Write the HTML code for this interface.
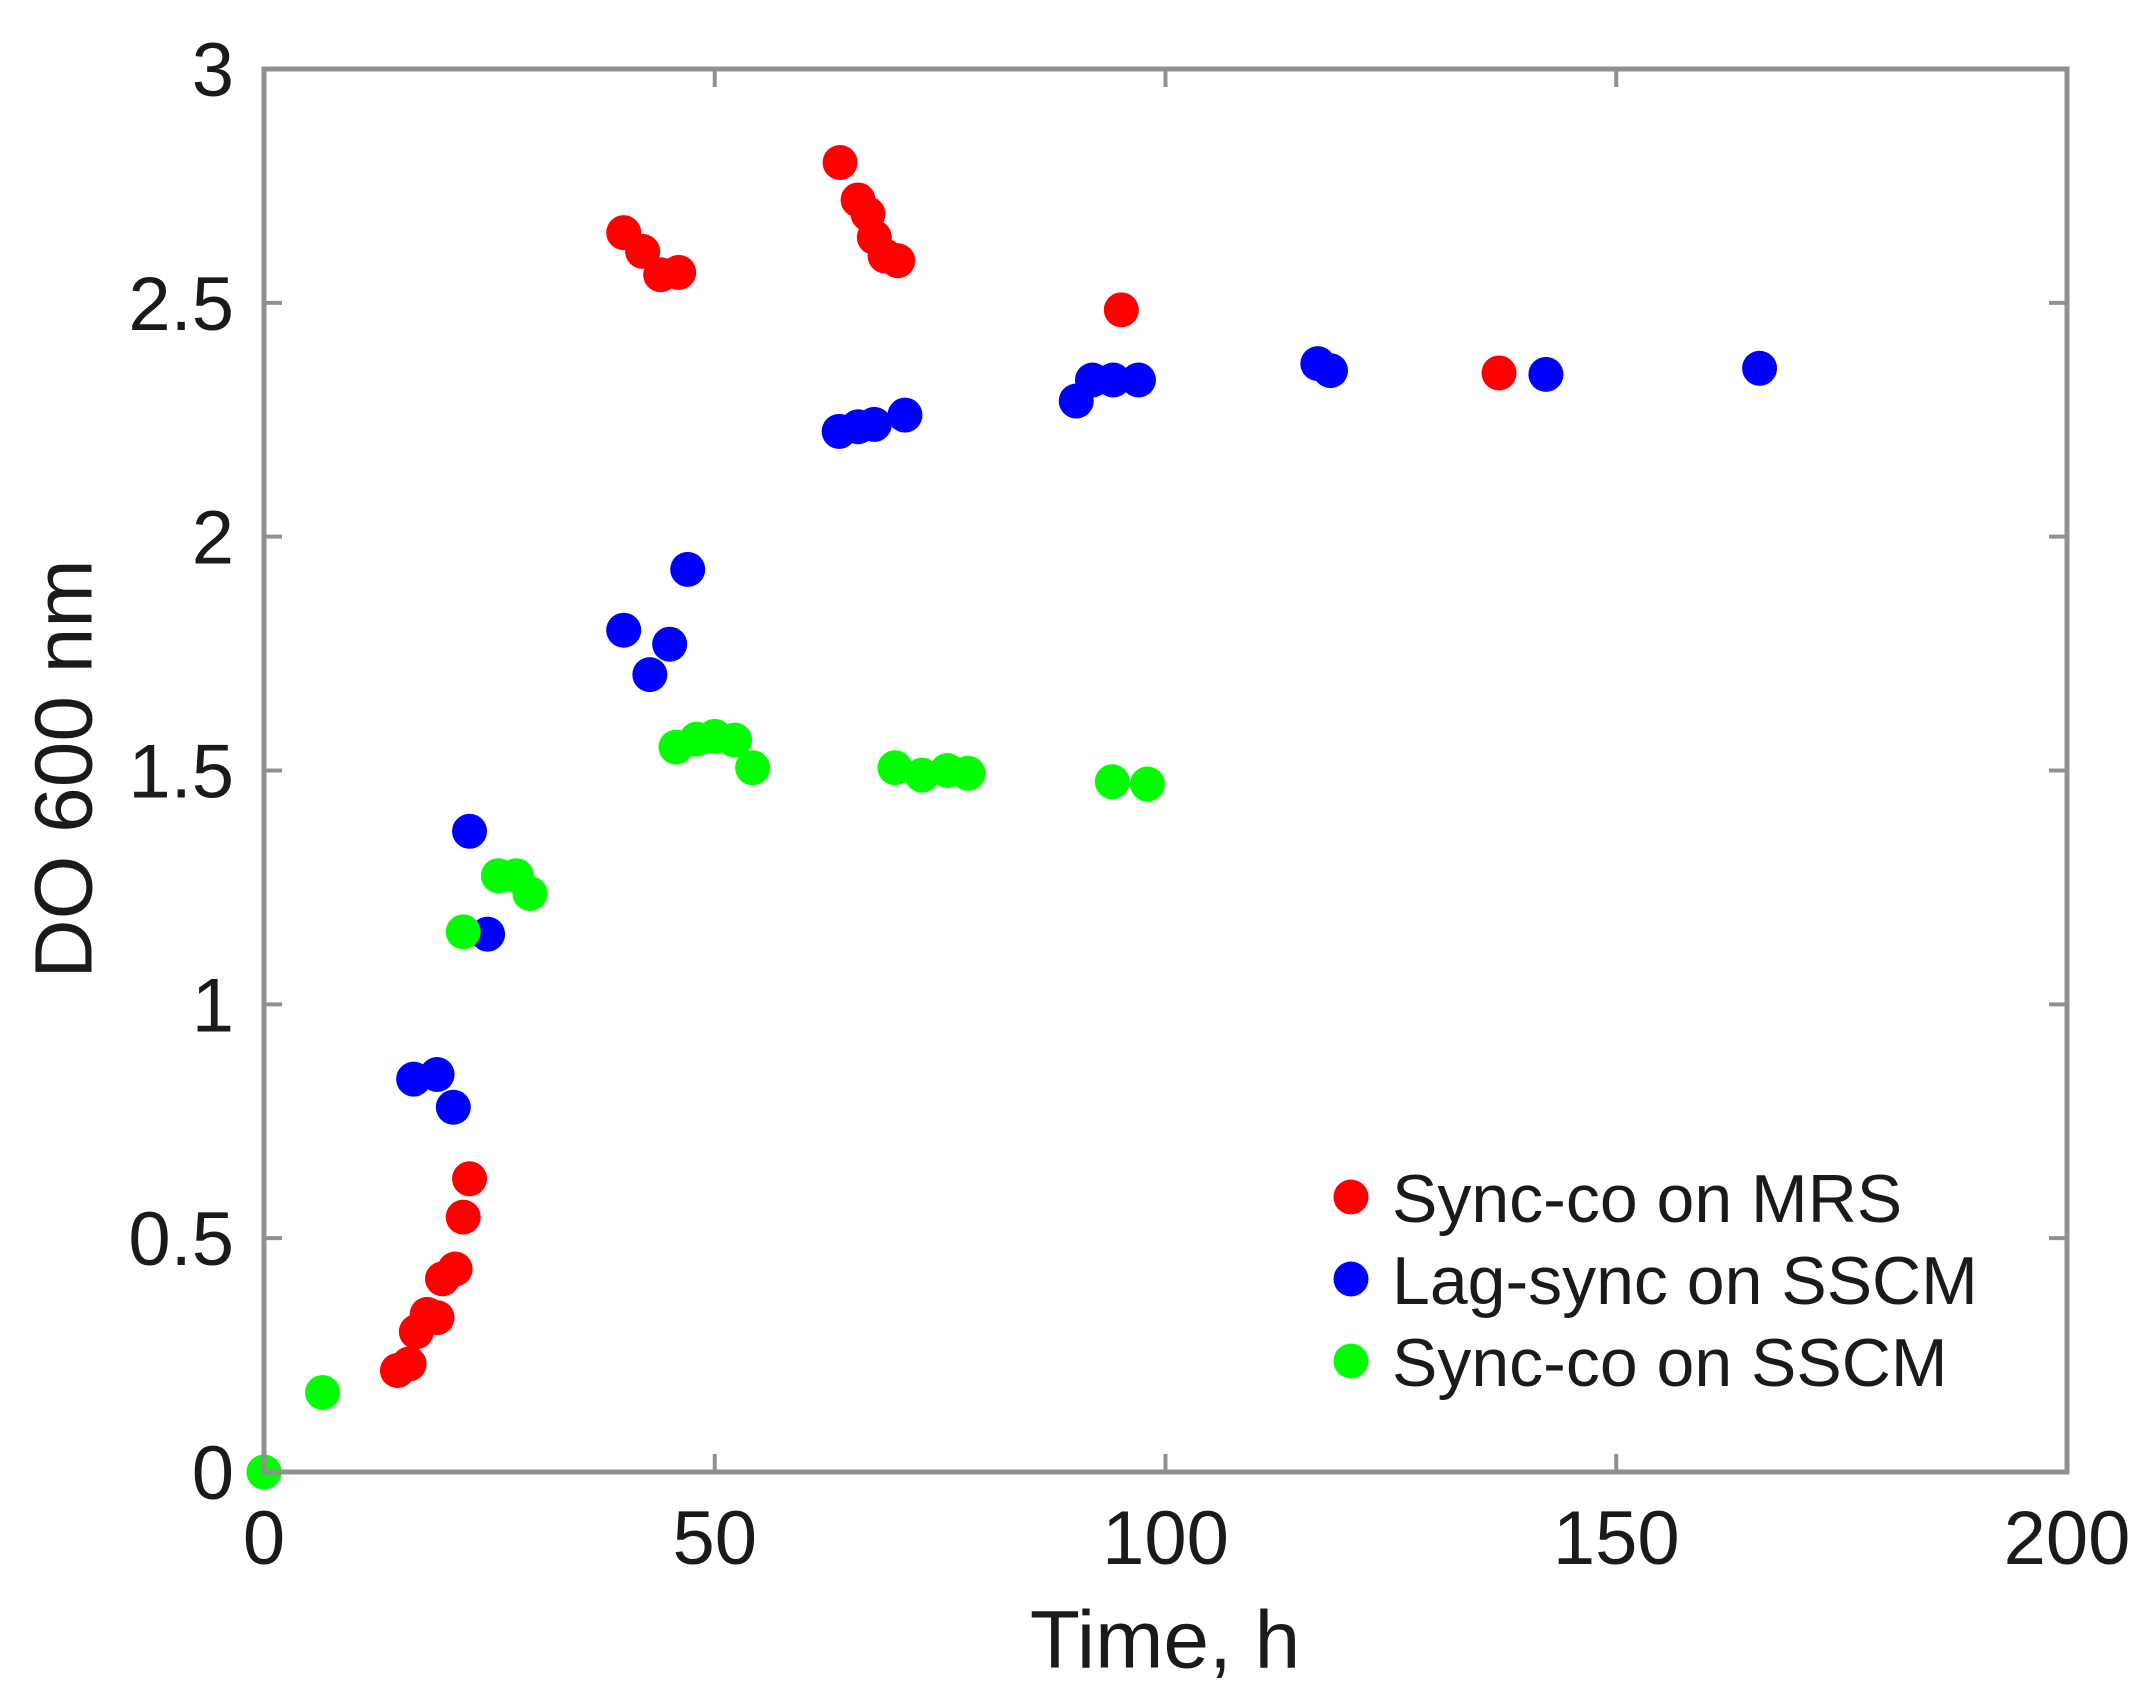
<!DOCTYPE html>
<html><head><meta charset="utf-8"><style>html,body{margin:0;padding:0;background:#fff}svg{display:block}</style></head>
<body>
<svg id="s" width="2152" height="1693" xmlns="http://www.w3.org/2000/svg" font-family="Liberation Sans, Arial, sans-serif">
<rect width="2152" height="1693" fill="#fff"/>
<g id="ticks" stroke="#909090" stroke-width="4"></g>
<g id="pts"></g>
<rect x="264" y="69" width="1803" height="1403" fill="none" stroke="#909090" stroke-width="5"/>
<g id="labels" font-size="76" fill="#1a1a1a"></g>
<text x="64" y="769" font-size="82" fill="#1a1a1a" text-anchor="middle" dominant-baseline="central" transform="rotate(-90 64 769)">DO 600 nm</text>
<text x="1165" y="1640" font-size="82" fill="#1a1a1a" text-anchor="middle" dominant-baseline="central">Time, h</text>
<g font-size="68" fill="#1a1a1a">
<circle cx="1351" cy="1197" r="17.5" fill="#ff0000"/><text x="1392" y="1222">Sync-co on MRS</text>
<circle cx="1351" cy="1279" r="17.5" fill="#0000ff"/><text x="1392" y="1304">Lag-sync on SSCM</text>
<circle cx="1351" cy="1361" r="17.5" fill="#00ff00"/><text x="1392" y="1386">Sync-co on SSCM</text>
</g>
</svg>
<script>
var NS="http://www.w3.org/2000/svg";
function X(t){return 264+t*9.015}function Y(v){return 1472-v*467.67}
function el(p,n,a,txt){var e=document.createElementNS(NS,n);for(var k in a)e.setAttribute(k,a[k]);if(txt!=null)e.textContent=txt;document.getElementById(p).appendChild(e);}
for(var i=0;i<=4;i++){var x=X(i*50);
 el('ticks','line',{x1:x,y1:1472,x2:x,y2:1454});el('ticks','line',{x1:x,y1:69,x2:x,y2:87});
 el('labels','text',{x:x,y:1564,'text-anchor':'middle'},String(i*50));}
for(var j=0;j<=6;j++){var v=j*0.5,y=Y(v);
 el('ticks','line',{x1:264,y1:y,x2:282,y2:y});el('ticks','line',{x1:2067,y1:y,x2:2049,y2:y});
 el('labels','text',{x:234,y:y+27,'text-anchor':'end'},String(v));}
var red=[[14.8,.217],[16.1,.231],[16.9,.30],[18.1,.337],[19.2,.33],[19.8,.413],[21.2,.434],[22.1,.545],[22.8,.627],[39.9,2.65],[42,2.61],[44,2.56],[46,2.565],[63.9,2.80],[65.9,2.72],[67,2.69],[67.7,2.64],[68.9,2.60],[70.3,2.59],[95.1,2.485],[137,2.35]];
var blue=[[16.6,.84],[19.2,.85],[21,.78],[22.8,1.37],[24.8,1.15],[39.9,1.80],[42.8,1.705],[45,1.77],[47,1.93],[63.8,2.225],[65.9,2.235],[67.7,2.24],[71.1,2.26],[90.1,2.29],[91.9,2.335],[94.2,2.335],[97,2.335],[116.9,2.37],[118.3,2.355],[142.2,2.347],[165.9,2.36]];
var green=[[0,0],[6.5,.17],[22.1,1.155],[26,1.275],[28,1.275],[29.5,1.237],[45.7,1.55],[48,1.567],[50,1.573],[52.2,1.565],[54.2,1.506],[70,1.506],[73,1.49],[75.8,1.50],[78.1,1.494],[94.1,1.476],[98,1.471]];
[[red,'#ff0000'],[blue,'#0000ff'],[green,'#00ff00']].forEach(function(s){s[0].forEach(function(p){el('pts','circle',{cx:X(p[0]),cy:Y(p[1]),r:17.5,fill:s[1]});});});
</script>
</body></html>
